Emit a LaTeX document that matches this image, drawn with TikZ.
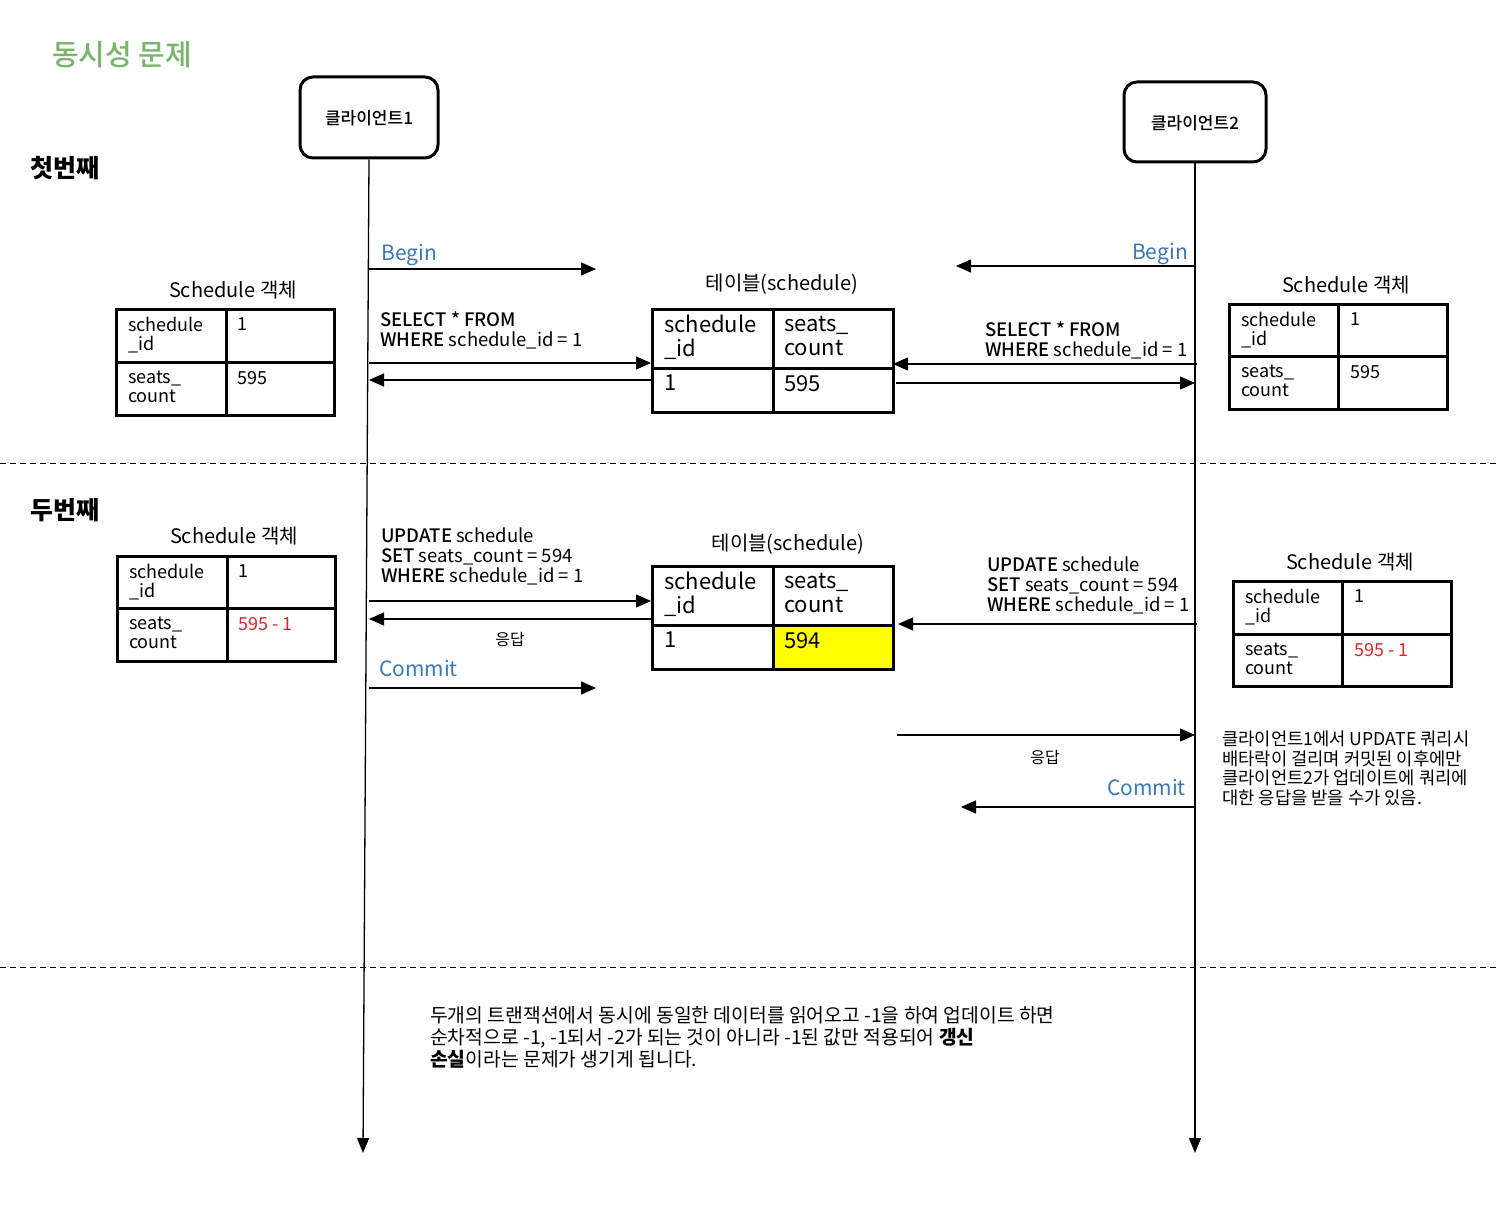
\documentclass[tikz,border=0pt]{standalone}
\usepackage{fontspec}
\setmainfont{Noto Sans CJK KR}
\newfontfamily\medfont{Noto Sans CJK KR Medium}
\usetikzlibrary{arrows.meta}
\definecolor{titlegreen}{HTML}{78B46C}
\definecolor{qblue}{HTML}{3B79B4}
\definecolor{qred}{HTML}{D8262B}
\definecolor{hl}{HTML}{FFFF00}
\newcommand\setfs[2]{\fontsize{#1}{#2}\selectfont}
\newcommand\clientlabel[1]{\raisebox{-7.5pt}[0pt][0pt]{#1}}
\begin{document}
\begin{tikzpicture}[x=1pt,y=-1pt,
  txt/.style={inner sep=0pt, align=left},
  cell/.style={txt, anchor=north west, font=\setfs{18}{19}},
  bigcell/.style={txt, anchor=north west, font=\setfs{22}{24}},
  caption/.style={txt, anchor=center, font=\setfs{20}{24}},
  sql/.style={txt, anchor=north west, font=\setfs{18.5}{20}},
  kw/.style={text=qblue, txt, font=\setfs{21}{25}},
  reply/.style={txt, anchor=center, font=\setfs{16}{19}},
  grid/.style={line width=3pt},
  client/.style={draw, line width=3pt, rounded corners=13pt, inner sep=0pt,
                 font=\medfont\setfs{17}{20}},
  life/.style={line width=1.3pt, -{Triangle[length=15pt,width=12pt]}},
  msg/.style={line width=1.3pt, -{Triangle[length=15pt,width=13pt]}},
  sep/.style={dashed, line width=1pt, dash pattern=on 6pt off 4pt}]
\useasboundingbox[fill=white] (0,0) rectangle (1500,1209);

% headings
\node[txt, anchor=west, text=titlegreen, font=\medfont\setfs{29}{34}] (title) at (52,55) {동시성 문제};
\node[txt, anchor=west, font=\bfseries\setfs{25}{30}] (first) at (30,168) {첫번째};
\node[txt, anchor=west, font=\bfseries\setfs{25}{30}] (second) at (30,510) {두번째};

% clients and lifelines
\node[client, minimum width=138pt, minimum height=81pt] (c1) at (369,117.5) {\clientlabel{클라이언트1}};
\node[client, minimum width=142pt, minimum height=80pt] (c2) at (1195,122) {\clientlabel{클라이언트2}};
\coordinate (c1end) at (363,1153);
\coordinate (c2end) at (1195,1153);
\draw[life] (c1.south) -- (c1end);
\draw[life] (c2.south) -- (c2end);

% section separators
\coordinate (s1l) at (0,463); \coordinate (s1r) at (1500,463);
\coordinate (s2l) at (0,967); \coordinate (s2r) at (1500,967);
\draw[sep] (s1l) -- (s1r);
\draw[sep] (s2l) -- (s2r);

% ---------- first round ----------
% client 1 object
\node[caption] (o1cap) at (233,290) {Schedule 객체};
\draw[grid] (116,309) rectangle (334,415) (226,309) -- (226,415) (116,362) -- (334,362);
\node[cell] (o1a) at (128,317) {schedule\\\_id};
\node[cell] (o1b) at (237,317) {1};
\node[cell] (o1c) at (128,371) {seats\_\\count};
\node[cell] (o1d) at (237,371) {595};

% table, first round
\node[caption] (t1cap) at (782,284) {테이블(schedule)};
\draw[grid] (652,309) rectangle (893,412) (773,309) -- (773,412) (652,368) -- (893,368);
\node[bigcell] (t1a) at (664,315) {schedule\\\_id};
\node[bigcell] (t1b) at (784,316) {seats\_\\count};
\node[bigcell] (t1c) at (664,375) {1};
\node[bigcell] (t1d) at (784,375) {595};
\coordinate (t1w) at (651,363); \coordinate (t1wr) at (651,380);
\coordinate (t1e) at (893,364); \coordinate (t1er) at (896,383);

% client 2 object
\node[caption] (o2cap) at (1346,285) {Schedule 객체};
\draw[grid] (1229,304) rectangle (1447,409) (1338,304) -- (1338,409) (1229,356) -- (1447,356);
\node[cell] (o2a) at (1241,312) {schedule\\\_id};
\node[cell] (o2b) at (1350,312) {1};
\node[cell] (o2c) at (1241,365) {seats\_\\count};
\node[cell] (o2d) at (1350,365) {595};

% begin messages
\node[kw, anchor=base west] (b1) at (381,261) {Begin};
\coordinate (b1s) at (369,269); \coordinate (b1e) at (596,269);
\draw[msg] (b1s) -- (b1e);
\node[kw, anchor=base east] (b2) at (1188,260) {Begin};
\coordinate (b2s) at (1195,266); \coordinate (b2e) at (956,266);
\draw[msg] (b2s) -- (b2e);

% select queries
\node[sql] (q1) at (380,311) {{\medfont SELECT * FROM}\\{\medfont WHERE} schedule\_id = 1};
\coordinate (q1s) at (369,363); \coordinate (q1r) at (369,380);
\draw[msg] (q1s) -- (t1w);
\draw[msg] (t1wr) -- (q1r);
\node[sql] (q2) at (985,321) {{\medfont SELECT * FROM}\\{\medfont WHERE} schedule\_id = 1};
\coordinate (q2s) at (1197,364); \coordinate (q2r) at (1195,383);
\draw[msg] (q2s) -- (t1e);
\draw[msg] (t1er) -- (q2r);

% ---------- second round ----------
\node[caption] (o3cap) at (234,536) {Schedule 객체};
\draw[grid] (117,556) rectangle (335,661) (227,556) -- (227,661) (117,608) -- (335,608);
\node[cell] (o3a) at (129,564) {schedule\\\_id};
\node[cell] (o3b) at (238,564) {1};
\node[cell] (o3c) at (129,617) {seats\_\\count};
\node[cell, text=qred] (o3d) at (238,617) {595 - 1};

\node[caption] (t2cap) at (788,544) {테이블(schedule)};
\fill[hl] (773,625) rectangle (893,669);
\draw[grid] (652,566) rectangle (893,669) (773,566) -- (773,669) (652,625) -- (893,625);
\node[bigcell] (t2a) at (664,572) {schedule\\\_id};
\node[bigcell] (t2b) at (784,573) {seats\_\\count};
\node[bigcell] (t2c) at (664,632) {1};
\node[bigcell] (t2d) at (784,632) {594};
\coordinate (t2w) at (651,601); \coordinate (t2wr) at (651,619);
\coordinate (t2e) at (898,624); \coordinate (t2er) at (897,735);

\node[caption] (o4cap) at (1350,562) {Schedule 객체};
\draw[grid] (1233,581) rectangle (1451,686) (1342,581) -- (1342,686) (1233,634) -- (1451,634);
\node[cell] (o4a) at (1245,589) {schedule\\\_id};
\node[cell] (o4b) at (1354,589) {1};
\node[cell] (o4c) at (1245,643) {seats\_\\count};
\node[cell, text=qred] (o4d) at (1354,643) {595 - 1};

% update from client 1
\node[sql] (u1) at (381,528) {{\medfont UPDATE} schedule\\{\medfont SET} seats\_count = 594\\{\medfont WHERE} schedule\_id = 1};
\coordinate (u1s) at (369,601); \coordinate (u1r) at (369,619);
\draw[msg] (u1s) -- (t2w);
\draw[msg] (t2wr) -- (u1r);
\node[reply] (r1) at (510,640) {응답};
\node[kw, anchor=base west] (k1) at (379,676) {Commit};
\coordinate (k1s) at (369,688); \coordinate (k1e) at (596,688);
\draw[msg] (k1s) -- (k1e);

% update from client 2
\node[sql] (u2) at (987,557) {{\medfont UPDATE} schedule\\{\medfont SET} seats\_count = 594\\{\medfont WHERE} schedule\_id = 1};
\coordinate (u2s) at (1197,624);
\draw[msg] (u2s) -- (t2e);
\coordinate (r2e) at (1195,735);
\draw[msg] (t2er) -- (r2e);
\node[reply] (r2) at (1045,758) {응답};
\node[kw, anchor=base east] (k2) at (1186,795) {Commit};
\coordinate (k2s) at (1195,807); \coordinate (k2e) at (961,807);
\draw[msg] (k2s) -- (k2e);

\node[txt, anchor=north west, font=\setfs{17.7}{19.4}] (note) at (1222,731)
  {클라이언트1에서 UPDATE 쿼리시\\배타락이 걸리며 커밋된 이후에만\\클라이언트2가 업데이트에 쿼리에\\대한 응답을 받을 수가 있음.};

% summary
\node[txt, anchor=north west, font=\setfs{19.3}{22}] (summary) at (430,1006)
  {두개의 트랜잭션에서 동시에 동일한 데이터를 읽어오고 -1을 하여 업데이트 하면\\순차적으로 -1, -1되서 -2가 되는 것이 아니라 -1된 값만 적용되어 {\bfseries 갱신}\\{\bfseries 손실}이라는 문제가 생기게 됩니다.};
\end{tikzpicture}
\end{document}
